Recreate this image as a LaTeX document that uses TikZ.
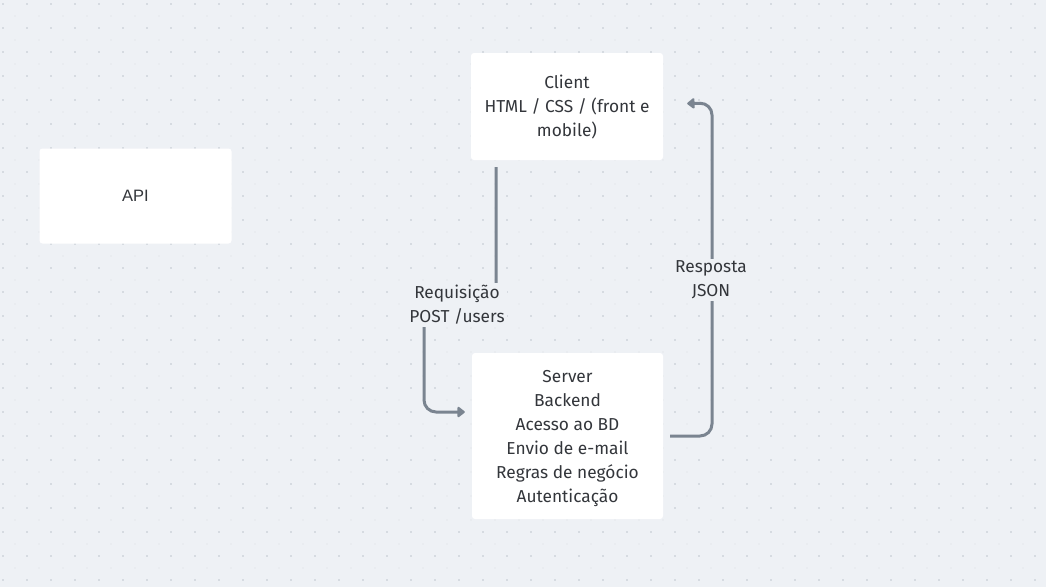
\documentclass[tikz,border=0pt]{standalone}
\usepackage{fontspec}
\setmainfont{Fira Sans}
\usetikzlibrary{arrows.meta,calc}
\definecolor{bg}{HTML}{EEF1F5}
\definecolor{dotc}{HTML}{BFC5CD}
\definecolor{linec}{HTML}{7A8490}
\definecolor{txt}{HTML}{33363B}
\tikzset{
  box/.style={fill=white, rounded corners=3pt, align=center, text=txt, font=\fontsize{17.3}{24}\selectfont, inner sep=0pt},
  btext/.style={align=center, text=txt, font=\fontsize{17.3}{24}\selectfont, inner sep=0pt},
  conn/.style={draw=linec, line width=3pt, rounded corners=12pt, -{Triangle[round,length=8pt,width=12pt]}},
  lbl/.style={fill=bg, align=center, text=txt, font=\fontsize{17.3}{24}\selectfont, inner sep=2pt}
}
\begin{document}
\begin{tikzpicture}[x=1pt,y=-1pt]
\fill[bg] (0,0) rectangle (1046,587);
\useasboundingbox (0,0) rectangle (1046,587);
\foreach \x in {3,27,...,1046} \foreach \y in {4,28,...,587} \fill[dotc] (\x,\y) circle (0.95pt);
\foreach \x in {15,39,...,1046} \foreach \y in {16,40,...,587} \fill[dotc!45!bg] (\x,\y) circle (0.7pt);

\node[box, minimum width=192pt, minimum height=95pt] (api) at (135.5,196) {\fontspec{Liberation Sans}\fontsize{16.5}{24}\selectfont API};
\node[box, minimum width=192pt, minimum height=107pt] (cl) at (567,106.5) {};
\node[btext] (clt) at ([yshift=-1pt]cl.center) {Client\\HTML / CSS / (front e\\mobile)};
\node[box, minimum width=191pt, minimum height=166pt] (sv) at (567.5,436) {};
\node[btext] (svt) at ([yshift=-3pt]sv.center) {Server\\Backend\\Acesso ao BD\\Envio de e-mail\\Regras de negócio\\Autenticação};

\coordinate (a1) at ([xshift=-71pt,yshift=-7pt]cl.south);
\coordinate (a2) at ([xshift=-7pt,yshift=24pt]sv.west);
\draw[conn] (a1) -- (a1 |- 0,305) -- (424,305) -- (424,412) -- (a2);
\node[lbl] (l1) at (457,305) {Requisição\\POST /users};

\coordinate (b1) at ([xshift=7pt]sv.east);
\coordinate (b2) at ([xshift=24pt,yshift=3pt]cl.east);
\draw[conn] (b1) -- (712,436) -- (712,103) -- (b2);
\node[lbl] (l2) at (711,280) {Resposta\\JSON};
\end{tikzpicture}
\end{document}
